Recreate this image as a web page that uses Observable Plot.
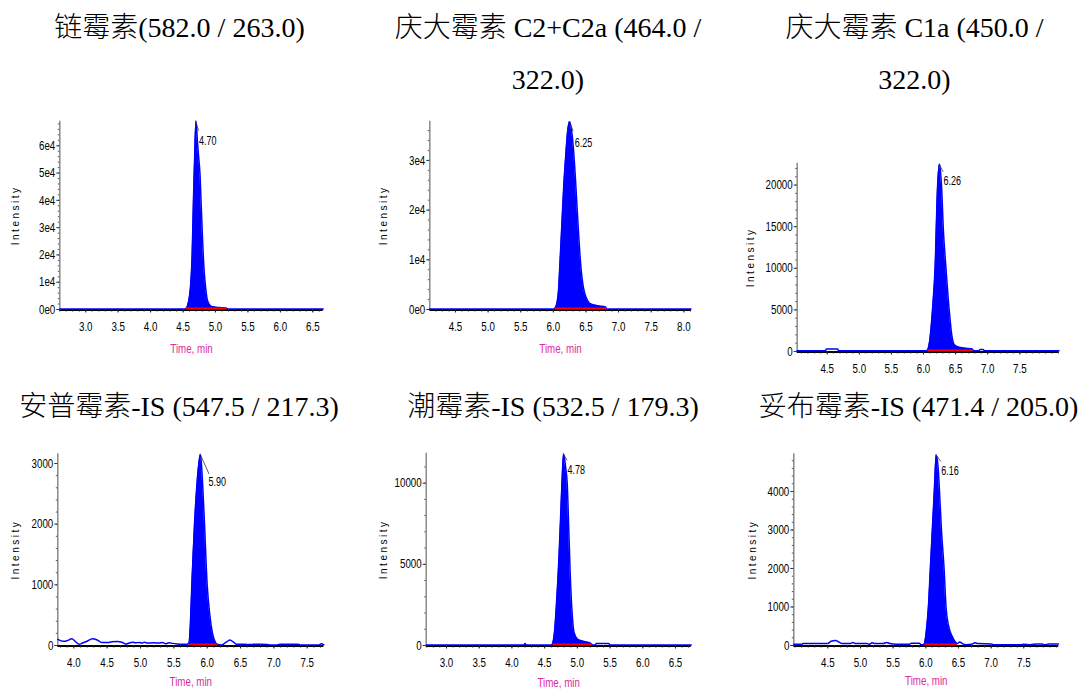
<!DOCTYPE html>
<html>
<head>
<meta charset="utf-8">
<script src="https://cdn.jsdelivr.net/npm/d3@7"></script>
<script src="https://cdn.jsdelivr.net/npm/@observablehq/plot@0.6"></script>
<style>
  body { margin: 0; background: #fff; }
  #root { position: relative; width: 1080px; height: 691px; overflow: hidden; background: #fff; }
  .title { position: absolute; width: 400px; text-align: center; white-space: pre-line;
           font-family: "Liberation Serif", "Noto Sans CJK SC", serif; font-size: 28px; font-weight: 300; color: #000; }
  .panel { position: absolute; overflow: hidden; }
</style>
</head>
<body>
<div id="root"></div>
<script>
// ---------- titles ----------
const titles = [
  "链霉素(582.0 / 263.0)",
  "庆大霉素 C2+C2a (464.0 /\n322.0)",
  "庆大霉素 C1a (450.0 /\n322.0)",
  "安普霉素-IS (547.5 / 217.3)",
  "潮霉素-IS (532.5 / 179.3)",
  "妥布霉素-IS (471.4 / 205.0)"
];

// ---------- panel 1: 链霉素 ----------
const p1Time = [2.60, 4.50, 4.54, 4.57, 4.60, 4.62, 4.64, 4.66, 4.68, 4.70, 4.72, 4.74, 4.76, 4.78, 4.80, 4.82, 4.84, 4.87, 4.90, 4.95, 5.05, 5.17, 5.19, 6.66];
const p1Intensity = [150, 150, 200, 1500, 5000, 10000, 20000, 40000, 57000, 69000, 62000, 56000, 50000, 38000, 26000, 16000, 10000, 4000, 2000, 1000, 700, 500, 150, 150];
const p1Integration = [4.54, 5.17];
const p1PeakLabel = "4.70";
const p1XDomain = [2.60, 6.66];
const p1YDomain = [0, 69000];
const p1XTicks = [3.0, 3.5, 4.0, 4.5, 5.0, 5.5, 6.0, 6.5];
const p1YTicks = [0, 10000, 20000, 30000, 40000, 50000, 60000];
const p1YTickLabels = ["0e0", "1e4", "2e4", "3e4", "4e4", "5e4", "6e4"];

// ---------- panel 2: 庆大霉素 C2+C2a ----------
const p2Time = [4.10, 6.00, 6.02, 6.05, 6.08, 6.10, 6.13, 6.16, 6.19, 6.22, 6.25, 6.28, 6.31, 6.34, 6.37, 6.40, 6.43, 6.46, 6.50, 6.55, 6.62, 6.70, 6.80, 6.82, 8.11];
const p2Intensity = [100, 100, 200, 1000, 4000, 9000, 17000, 25000, 31000, 36000, 37800, 36000, 32000, 26000, 19000, 12500, 7500, 4500, 2500, 1300, 900, 700, 500, 100, 100];
const p2Integration = [6.02, 6.81];
const p2PeakLabel = "6.25";
const p2XDomain = [4.106, 8.113];
const p2YDomain = [0, 37890];
const p2XTicks = [4.5, 5.0, 5.5, 6.0, 6.5, 7.0, 7.5, 8.0];
const p2YTicks = [0, 10000, 20000, 30000];
const p2YTickLabels = ["0e0", "1e4", "2e4", "3e4"];

// ---------- panel 3: 庆大霉素 C1a ----------
const p3Time = [4.03, 4.47, 4.49, 4.66, 4.68, 6.04, 6.07, 6.10, 6.14, 6.18, 6.22, 6.25, 6.28, 6.31, 6.35, 6.40, 6.44, 6.48, 6.55, 6.65, 6.76, 6.78, 6.86, 6.88, 6.93, 6.95, 8.11];
const p3Intensity = [80, 80, 300, 300, 80, 80, 300, 1500, 5000, 10000, 20000, 22500, 20000, 14500, 10000, 5000, 2000, 800, 500, 400, 300, 80, 80, 250, 250, 80, 80];
const p3Integration = [6.06, 6.76];
const p3PeakLabel = "6.26";
const p3XDomain = [4.033, 8.107];
const p3YDomain = [0, 22630];
const p3XTicks = [4.5, 5.0, 5.5, 6.0, 6.5, 7.0, 7.5];
const p3YTicks = [0, 5000, 10000, 15000, 20000];
const p3YTickLabels = ["0", "5000", "10000", "15000", "20000"];

// ---------- panel 4: 安普霉素-IS ----------
const p4Time = [3.76, 3.80, 3.85, 3.90, 3.97, 4.02, 4.08, 4.13, 4.20, 4.28, 4.35, 4.42, 4.50, 4.57, 4.65, 4.72, 4.78, 4.83, 4.88, 4.93, 4.98, 5.02, 5.06, 5.10, 5.20, 5.28, 5.33, 5.38, 5.43, 5.48, 5.55, 5.62, 5.70, 5.73, 5.75, 5.77, 5.81, 5.85, 5.90, 5.93, 5.96, 6.00, 6.04, 6.08, 6.12, 6.15, 6.22, 6.28, 6.34, 6.40, 6.44, 6.55, 6.65, 6.70, 6.80, 6.90, 6.95, 7.05, 7.10, 7.20, 7.35, 7.40, 7.55, 7.68, 7.71, 7.75];
const p4Intensity = [100, 80, 70, 80, 110, 70, 20, 40, 70, 110, 90, 50, 50, 60, 65, 55, 25, 40, 55, 45, 50, 40, 55, 40, 45, 40, 50, 30, 45, 35, 25, 20, 20, 50, 400, 1000, 2000, 2700, 3150, 2700, 2000, 1000, 500, 200, 60, 20, 10, 50, 90, 50, 20, 20, 15, 20, 20, 15, 10, 10, 20, 20, 20, 10, 10, 10, 30, 10];
const p4Integration = [5.73, 6.15];
const p4PeakLabel = "5.90";
const p4XDomain = [3.76, 7.749];
const p4YDomain = [0, 3160];
const p4XTicks = [4.0, 4.5, 5.0, 5.5, 6.0, 6.5, 7.0, 7.5];
const p4YTicks = [0, 1000, 2000, 3000];
const p4YTickLabels = ["0", "1000", "2000", "3000"];

// ---------- panel 5: 潮霉素-IS ----------
const p5Time = [2.69, 4.18, 4.20, 4.22, 4.60, 4.62, 4.65, 4.68, 4.72, 4.75, 4.77, 4.79, 4.82, 4.845, 4.87, 4.89, 4.92, 4.95, 5.00, 5.10, 5.20, 5.23, 5.27, 5.29, 5.48, 5.50, 6.74];
const p5Intensity = [30, 30, 120, 30, 30, 100, 800, 2500, 5500, 8500, 10500, 11800, 11000, 10000, 7000, 4500, 2000, 800, 400, 250, 150, 30, 30, 120, 120, 30, 30];
const p5Integration = [4.62, 5.22];
const p5PeakLabel = "4.78";
const p5XDomain = [2.69, 6.74];
const p5YDomain = [0, 11845];
const p5XTicks = [3.0, 3.5, 4.0, 4.5, 5.0, 5.5, 6.0, 6.5];
const p5YTicks = [0, 5000, 10000];
const p5YTickLabels = ["0", "5000", "10000"];

// ---------- panel 6: 妥布霉素-IS ----------
const p6Time = [3.98, 4.10, 4.12, 4.50, 4.55, 4.62, 4.68, 4.72, 4.85, 4.88, 4.92, 5.10, 5.13, 5.18, 5.22, 5.35, 5.40, 5.45, 5.55, 5.75, 5.78, 5.90, 5.93, 5.95, 5.98, 6.01, 6.04, 6.07, 6.10, 6.13, 6.16, 6.19, 6.21, 6.24, 6.28, 6.31, 6.35, 6.40, 6.45, 6.48, 6.52, 6.56, 6.62, 6.70, 6.75, 6.80, 7.00, 7.05, 7.45, 7.50, 7.60, 7.70, 7.78, 7.82, 7.88, 8.03];
const p6Intensity = [30, 30, 50, 50, 110, 130, 80, 50, 50, 80, 50, 50, 30, 70, 50, 50, 80, 50, 30, 30, 60, 60, 20, 20, 50, 400, 1000, 2000, 3000, 4000, 4950, 4600, 4000, 3000, 2000, 1000, 500, 250, 100, 50, 90, 50, 20, 30, 70, 50, 40, 20, 20, 30, 20, 40, 40, 20, 40, 40];
const p6Integration = [5.98, 6.48];
const p6PeakLabel = "6.16";
const p6XDomain = [3.98, 8.036];
const p6YDomain = [0, 4979];
const p6XTicks = [4.5, 5.0, 5.5, 6.0, 6.5, 7.0, 7.5];
const p6YTicks = [0, 1000, 2000, 3000, 4000];
const p6YTickLabels = ["0", "1000", "2000", "3000", "4000"];

// ---------- layout (positions / styles only) ----------
const titleLayout = [
  {cx: 179.5, top: 2, lh: 52}, {cx: 548, top: 2, lh: 52}, {cx: 914.5, top: 2, lh: 52},
  {cx: 179, top: 387, lh: 40}, {cx: 553, top: 387, lh: 40}, {cx: 918.5, top: 387, lh: 40}
];
const panelLayout = [
  {left: 0,   top: 110, width: 335, height: 250, x0: 59.3,  x1: 322.7,  yTop: 120.7, yBase: 309, yLab: 44, xLab: 39,   lead: [3, 10], lab: [3, 20]},
  {left: 370, top: 110, width: 335, height: 250, x0: 429.3, x1: 690.7,  yTop: 120.7, yBase: 309, yLab: 46, xLab: 39,   lead: [4, 10], lab: [5, 21]},
  {left: 730, top: 150, width: 350, height: 226, x0: 796.7, x1: 1058.3, yTop: 162.7, yBase: 351, yLab: 46, xLab: null, lead: [4, 8],  lab: [4, 17]},
  {left: 0,   top: 445, width: 335, height: 246, x0: 57.3,  x1: 323.3,  yTop: 453.3, yBase: 645, yLab: 42, xLab: 36,   lead: [9, 20], lab: [8, 28]},
  {left: 370, top: 445, width: 335, height: 246, x0: 425.7, x1: 690.7,  yTop: 452.7, yBase: 645, yLab: 42, xLab: 37,   lead: [4, 7],  lab: [4, 16]},
  {left: 730, top: 445, width: 350, height: 246, x0: 793.3, x1: 1058.3, yTop: 453.3, yBase: 645, yLab: 41, xLab: 35,   lead: [5, 7],  lab: [5, 16]}
];

const panels = [
  {time: p1Time, intensity: p1Intensity, integration: p1Integration, peakLabel: p1PeakLabel, xDomain: p1XDomain, yDomain: p1YDomain, xTicks: p1XTicks, yTicks: p1YTicks, yTickLabels: p1YTickLabels},
  {time: p2Time, intensity: p2Intensity, integration: p2Integration, peakLabel: p2PeakLabel, xDomain: p2XDomain, yDomain: p2YDomain, xTicks: p2XTicks, yTicks: p2YTicks, yTickLabels: p2YTickLabels},
  {time: p3Time, intensity: p3Intensity, integration: p3Integration, peakLabel: p3PeakLabel, xDomain: p3XDomain, yDomain: p3YDomain, xTicks: p3XTicks, yTicks: p3YTicks, yTickLabels: p3YTickLabels},
  {time: p4Time, intensity: p4Intensity, integration: p4Integration, peakLabel: p4PeakLabel, xDomain: p4XDomain, yDomain: p4YDomain, xTicks: p4XTicks, yTicks: p4YTicks, yTickLabels: p4YTickLabels},
  {time: p5Time, intensity: p5Intensity, integration: p5Integration, peakLabel: p5PeakLabel, xDomain: p5XDomain, yDomain: p5YDomain, xTicks: p5XTicks, yTicks: p5YTicks, yTickLabels: p5YTickLabels},
  {time: p6Time, intensity: p6Intensity, integration: p6Integration, peakLabel: p6PeakLabel, xDomain: p6XDomain, yDomain: p6YDomain, xTicks: p6XTicks, yTicks: p6YTicks, yTickLabels: p6YTickLabels}
];

const root = document.getElementById("root");
const SVGNS = "http://www.w3.org/2000/svg";
const narrow = "'Liberation Sans Narrow', 'Liberation Sans', Arial, sans-serif";

titles.forEach((txt, i) => {
  const d = document.createElement("div");
  d.className = "title";
  d.textContent = txt;
  d.style.left = (titleLayout[i].cx - 200) + "px";
  d.style.top = titleLayout[i].top + "px";
  d.style.lineHeight = titleLayout[i].lh + "px";
  root.appendChild(d);
});

function condense(svg, k) {
  svg.querySelectorAll("text").forEach(t => {
    if (t.textContent === "Intensity") {
      t.setAttribute("letter-spacing", "2.5");
      return;
    }
    const tr = t.getAttribute("transform");
    if (tr) t.setAttribute("transform", tr + ` scale(${k},1)`);
    else {
      const x = +(t.getAttribute("x") || 0), y = +(t.getAttribute("y") || 0);
      t.removeAttribute("x"); t.removeAttribute("y");
      t.setAttribute("transform", `translate(${x},${y}) scale(${k},1)`);
    }
  });
}

panels.forEach((p, i) => {
  const L = panelLayout[i];
  const data = p.time.map((t, j) => ({t, v: p.intensity[j]}));
  const [s, e] = p.integration;
  const fillData = data.filter(d => d.t >= s - 1e-9 && d.t <= e + 1e-9);
  const apex = data.reduce((a, b) => (b.v > a.v ? b : a));
  const xMinor = d3.range(Math.ceil(p.xDomain[0] * 10), Math.floor(p.xDomain[1] * 10) + 1).map(k => k / 10);
  const yStep = p.yTicks[1] - p.yTicks[0];
  const yMinor = d3.range(0, p.yDomain[1] + 1e-9, yStep / 5);
  const yLabelMap = new Map(p.yTicks.map((v, j) => [v, p.yTickLabels[j]]));

  const marks = [
    Plot.areaY(fillData, {x: "t", y: "v", fill: "#0000ff", curve: "monotone-x"}),
    Plot.ruleY([0], {stroke: "#000", strokeWidth: 2, dy: 0.5}),
    Plot.ruleX([p.xDomain[0]], {stroke: "#8a8a8a", strokeWidth: 1.5}),
    Plot.line(data, {x: "t", y: "v", stroke: "#0000ff", strokeWidth: 1.5, curve: "monotone-x"}),
    Plot.link([p.integration], {x1: d => d[0], x2: d => d[1], y1: 0, y2: 0, stroke: "#ff0000", strokeWidth: 2, dy: -1}),
    Plot.axisX({ticks: xMinor, tickSize: 2.5, tickFormat: () => "", label: null, stroke: "#222"}),
    Plot.axisX({ticks: p.xTicks, tickSize: 3.5, tickPadding: 9, tickFormat: d => d.toFixed(1), label: null, stroke: "#222"}),
    Plot.axisY({ticks: yMinor, tickSize: 1.5, tickFormat: () => "", label: null, stroke: "#555"}),
    Plot.axisY({ticks: p.yTicks, tickSize: 3, tickPadding: 1.5, tickFormat: d => yLabelMap.get(d), label: null, stroke: "#333"}),
    (index, scales) => {
      const x = scales.x(apex.t), y = scales.y(apex.v);
      const path = document.createElementNS(SVGNS, "path");
      path.setAttribute("d", `M${x},${y}L${x + L.lead[0]},${y + L.lead[1]}`);
      path.setAttribute("stroke", "#333");
      path.setAttribute("stroke-width", "0.8");
      path.setAttribute("fill", "none");
      return path;
    },
    Plot.text([apex], {x: "t", y: "v", text: () => p.peakLabel, dx: L.lab[0], dy: L.lab[1], textAnchor: "start", lineAnchor: "middle", fontSize: 12, fill: "#000"}),
    Plot.text(["Intensity"], {text: d => d, frameAnchor: "left", dx: -L.yLab, rotate: -90, textAnchor: "middle", lineAnchor: "middle", fontSize: 10, fontFamily: "'Liberation Sans', Arial, sans-serif", fill: "#000"})
  ];
  if (L.xLab != null) {
    marks.push(Plot.text(["Time, min"], {text: d => d, frameAnchor: "bottom", dy: L.xLab, textAnchor: "middle", lineAnchor: "middle", fontSize: 13, fill: "#de2a9c"}));
  }

  const svg = Plot.plot({
    width: L.width,
    height: L.height,
    marginLeft: L.x0 - L.left,
    marginRight: L.left + L.width - L.x1,
    marginTop: L.yTop - L.top,
    marginBottom: L.top + L.height - L.yBase,
    x: {domain: p.xDomain},
    y: {domain: p.yDomain},
    style: {fontFamily: narrow, fontSize: "13px", color: "#000", background: "transparent", overflow: "visible"},
    marks
  });
  condense(svg, 0.75);

  const box = document.createElement("div");
  box.className = "panel";
  box.style.left = L.left + "px";
  box.style.top = L.top + "px";
  box.style.width = L.width + "px";
  box.style.height = L.height + "px";
  box.appendChild(svg);
  root.appendChild(box);
});
</script>
</body>
</html>
